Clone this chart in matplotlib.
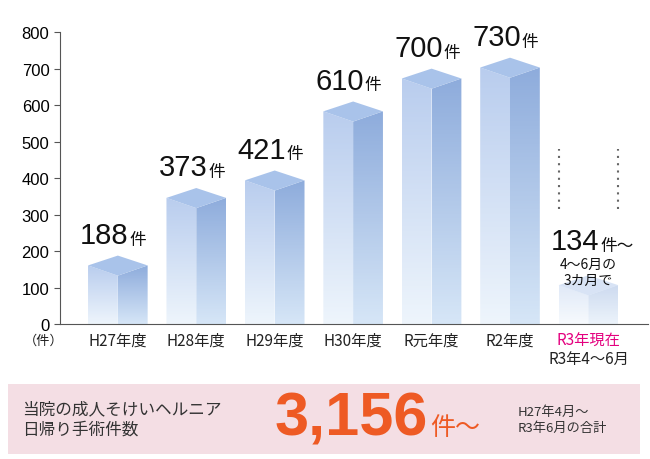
import numpy as np
import matplotlib
matplotlib.use("Agg")
import matplotlib.pyplot as plt
from matplotlib.patches import Polygon, Rectangle
from matplotlib.colors import LinearSegmentedColormap

plt.rcParams['font.family'] = ['Noto Sans CJK JP', 'DejaVu Sans']
NUMF = ['Liberation Sans', 'Noto Sans CJK JP']

categories = ["H27年度", "H28年度", "H29年度", "H30年度", "R元年度", "R2年度", "R3年現在"]
values = [188, 373, 421, 610, 700, 730, 134]
value_labels = ["188", "373", "421", "610", "700", "730", "134"]
yticks = [0, 100, 200, 300, 400, 500, 600, 700, 800]

fig = plt.figure(figsize=(6.5, 4.6), dpi=100)
ax = fig.add_axes([0.092, 0.293, 0.905, 0.635])
ax.set_xlim(-0.74, 6.76)
ax.set_ylim(0, 800)
for s in ["top", "right"]:
    ax.spines[s].set_visible(False)
ax.spines["left"].set_color("#555")
ax.spines["bottom"].set_color("#555")
ax.set_yticks(yticks)
ax.set_yticklabels([str(t) for t in yticks], fontsize=12, family=NUMF)
ax.tick_params(axis='y', length=4, color="#555")
ax.set_xticks([])

hw = 0.38
grad = np.linspace(0, 1, 100).reshape(-1, 1)

def face(poly_pts, cmap_colors, alpha):
    cm = LinearSegmentedColormap.from_list("g", cmap_colors)
    p = Polygon(poly_pts, closed=True, facecolor="none", edgecolor="none")
    ax.add_patch(p)
    xs = [q[0] for q in poly_pts]; ys = [q[1] for q in poly_pts]
    im = ax.imshow(grad, extent=[min(xs), max(xs), min(ys), max(ys)], origin="lower",
                   cmap=cm, aspect="auto", alpha=alpha, zorder=2)
    im.set_clip_path(p)

for i, v in enumerate(values):
    last = i == len(values) - 1
    a = 0.45 if last else 1.0
    front = v - 55
    side = v - 27
    face([(i - hw, 0), (i, -1), (i, front), (i - hw, side)], ["#eef5fc", "#b9cdee"], a)
    face([(i, -1), (i + hw, 0), (i + hw, side), (i, front)], ["#d6e6f7", "#8eacdc"], a)
    top = Polygon([(i - hw, side), (i, front), (i + hw, side), (i, v)], closed=True,
                  facecolor="#a9c3ea", edgecolor="none", alpha=a, zorder=3)
    ax.add_patch(top)
    ly = v + 18
    if last:
        ly = v + 55
    ax.text(i + 0.14, ly, value_labels[i], ha="right", va="bottom", fontsize=21, color="#111",
            zorder=5, family=NUMF)
    ax.text(i + 0.15, ly + 4, "件～" if last else "件", ha="left", va="bottom", fontsize=12,
            color="#111", zorder=5)
    col = "#e4007f" if last else "#222"
    ax.text(i, -45, categories[i], ha="center", va="center", fontsize=11, color=col, clip_on=False)

ax.text(6, 185, "4～6月の\n3カ月で", ha="center", va="top", fontsize=10, color="#111", linespacing=1.2, zorder=5)
ax.text(6, -95, "R3年4～6月", ha="center", va="center", fontsize=11, color="#222", clip_on=False)
ax.text(-0.95, -45, "（件）", ha="center", va="center", fontsize=9.5, color="#222", clip_on=False)
ax.vlines([6 - hw, 6 + hw], 315, 480, colors="#666", linestyles=(0, (1, 2.5)), linewidth=1.5)

fig.patches.append(Rectangle((8 / 650, 5 / 460), 632 / 650, 70 / 460, transform=fig.transFigure,
                             facecolor="#f4dee4", edgecolor="none", zorder=0))
fig.text(22 / 650, 1 - 420 / 460, "当院の成人そけいヘルニア\n日帰り手術件数", ha="left", va="center",
         fontsize=12, color="#333", linespacing=1.3)
fig.text(428 / 650, 1 - 420 / 460, "3,156", ha="right", va="center", fontsize=44,
         fontweight="bold", color="#ee5a24", family=NUMF)
fig.text(430 / 650, 1 - 428 / 460, "件～", ha="left", va="center", fontsize=18, color="#ee5a24")
fig.text(518 / 650, 1 - 420 / 460, "H27年4月～\nR3年6月の合計", ha="left", va="center",
         fontsize=9.5, color="#333", linespacing=1.3)

fig.savefig("out.png", dpi=100)
